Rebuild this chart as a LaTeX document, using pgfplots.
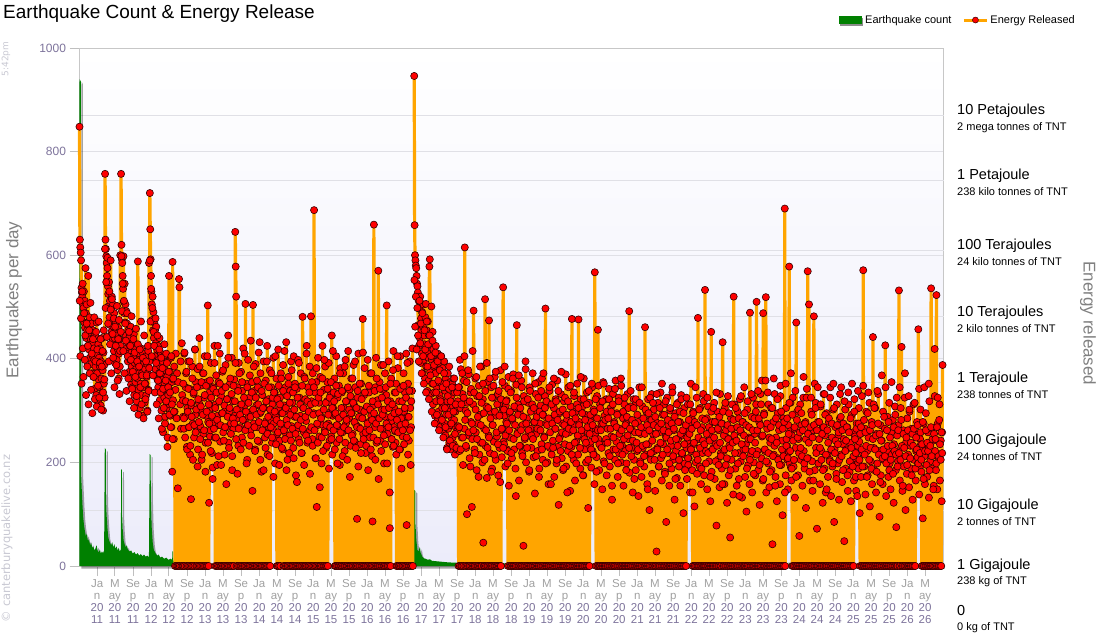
\documentclass[border=0pt]{standalone}
\usepackage{pgfplots}
\usepackage{pgfplotstable}
\pgfplotsset{compat=1.18}
\usepackage{fontspec}
\setmainfont{Liberation Sans}
\newfontfamily\wmfont{DejaVu Sans}
\definecolor{eqgreen}{RGB}{0,128,0}
\definecolor{enorange}{RGB}{255,165,0}
\definecolor{mkred}{RGB}{255,0,0}
\definecolor{mc}{RGB}{160,160,160}
\definecolor{yc}{RGB}{125,115,155}
\definecolor{gridc}{RGB}{224,224,230}
\definecolor{bgbot}{RGB}{236,236,250}
\definecolor{wm}{RGB}{200,200,210}
\newcommand{\mJ}[1]{\textcolor{mc}{Ja}\\\textcolor{mc}{n}\\20\\#1}
\newcommand{\mM}[1]{\textcolor{mc}{M}\\\textcolor{mc}{ay}\\20\\#1}
\newcommand{\mS}[1]{\textcolor{mc}{Se}\\\textcolor{mc}{p}\\20\\#1}
\pgfplotstableread{
x y
2010.672 0
2010.674 940
2010.700 935
2010.703 180
2010.715 150
2010.728 120
2010.742 95
2010.756 80
2010.770 70
2010.790 58
2010.810 62
2010.830 48
2010.850 52
2010.870 40
2010.890 45
2010.910 35
2010.930 38
2010.950 30
2010.970 34
2010.990 40
2011.010 30
2011.030 26
2011.050 32
2011.070 24
2011.090 28
2011.110 25
2011.130 30
2011.142 228
2011.160 225
2011.165 130
2011.175 100
2011.190 75
2011.205 57
2011.220 50
2011.240 45
2011.260 40
2011.280 46
2011.300 36
2011.320 42
2011.340 33
2011.360 38
2011.380 30
2011.400 35
2011.420 28
2011.440 32
2011.445 187
2011.460 185
2011.465 95
2011.475 70
2011.490 50
2011.510 42
2011.530 36
2011.550 40
2011.570 32
2011.600 28
2011.630 30
2011.660 24
2011.690 27
2011.720 22
2011.750 25
2011.780 20
2011.810 23
2011.840 19
2011.870 22
2011.900 18
2011.930 20
2011.960 17
2011.974 216
2011.990 214
2011.995 134
2012.010 76
2012.030 45
2012.050 31
2012.080 25
2012.110 20
2012.140 22
2012.170 16
2012.200 18
2012.240 14
2012.280 16
2012.320 12
2012.360 14
2012.390 12
2012.395 28
2012.405 28
2012.410 10
2012.450 8
2012.500 6
2012.600 5
2013.000 4
2013.540 5
2013.550 12
2013.570 4
2014.000 4
2015.000 3
2016.000 3
2016.118 3
2016.120 21
2016.135 20
2016.140 6
2016.500 3
2016.868 3
2016.870 147
2016.890 145
2016.893 83
2016.910 50
2016.930 31
2016.950 28
2016.975 37
2016.990 26
2017.020 18
2017.050 15
2017.080 14
2017.120 12
2017.160 13
2017.200 10
2017.300 9
2017.400 8
2017.500 7
2017.700 6
2018.500 5
2019.500 4
2021.000 4
2022.000 3
2023.800 3
2023.810 8
2023.820 3
2025.000 3
2026.655 3
2026.656 0
}\greendata

\begin{document}
\begin{tikzpicture}
\path[use as bounding box] (0,0) rectangle (1100pt,640pt);
\begin{axis}[
  at={(79.5pt,74pt)}, anchor=south west,
  scale only axis, width=864pt, height=518pt,
  xmin=2010.674, xmax=2026.67, ymin=0, ymax=1000,
  clip=false,
  axis line style={draw=black!22},
  axis background/.style={shade, top color=white, bottom color=bgbot},
  ytick={0,200,...,1000},
  ymajorgrids, grid style={draw=gridc, line width=0.8pt},
  extra y ticks={108.1,233.6,353.9,481.3,610,745.2,870.7},
  extra y tick labels={},
  extra y tick style={grid=major, major tick length=0pt},
  tick pos=left, tick align=outside, major tick length=10pt,
  tick style={draw=black!25, line width=0.8pt},
  /pgf/number format/1000 sep={}, /pgf/number format/assume math mode=true,
  yticklabel style={font=\fontsize{12}{14}\selectfont, text=yc},
  xtick={2011,2011.329,2011.666,2012,2012.329,2012.666,2013,2013.329,2013.666,2014,2014.329,2014.666,2015,2015.329,2015.666,2016,2016.329,2016.666,2017,2017.329,2017.666,2018,2018.329,2018.666,2019,2019.329,2019.666,2020,2020.329,2020.666,2021,2021.329,2021.666,2022,2022.329,2022.666,2023,2023.329,2023.666,2024,2024.329,2024.666,2025,2025.329,2025.666,2026,2026.329},
  xticklabels={\mJ{11},\mM{11},\mS{11},\mJ{12},\mM{12},\mS{12},\mJ{13},\mM{13},\mS{13},\mJ{14},\mM{14},\mS{14},\mJ{15},\mM{15},\mS{15},\mJ{16},\mM{16},\mS{16},\mJ{17},\mM{17},\mS{17},\mJ{18},\mM{18},\mS{18},\mJ{19},\mM{19},\mS{19},\mJ{20},\mM{20},\mS{20},\mJ{21},\mM{21},\mS{21},\mJ{22},\mM{22},\mS{22},\mJ{23},\mM{23},\mS{23},\mJ{24},\mM{24},\mS{24},\mJ{25},\mM{25},\mS{25},\mJ{26},\mM{26}},
  xticklabel style={align=center, font=\fontsize{11.5}{12}\selectfont, text=yc},
  legend style={at={(axis description cs:0.8785,1.054)}, anchor=west, draw=none, fill=none, inner sep=0pt,
    font=\fontsize{11}{13}\selectfont, legend columns=2, legend cell align=left,
    /tikz/every even column/.append style={column sep=9pt}},
  energy/.style={draw=enorange, line width=3.2pt, line join=round, mark=*, mark size=3.6pt,
    mark options={fill=mkred, draw=black!80!red, line width=0.6pt, solid}},
  extra/.style={only marks, mark=*, mark size=3.6pt,
    mark options={fill=mkred, draw=black!80!red, line width=0.6pt, solid}},
]
\addplot[fill=black, fill opacity=0.35, draw=none, xshift=2pt, yshift=-2.5pt, forget plot] table[x=x,y=y] {\greendata} \closedcycle;
\addplot[fill=eqgreen, draw=none, legend image code/.code={\fill[black!45] (1.5pt,-5.5pt) rectangle (24.5pt,2.5pt); \fill[eqgreen] (0pt,-4pt) rectangle (23pt,4pt);}] table[x=x,y=y] {\greendata} \closedcycle;
\addlegendentry{Earthquake count}
\addplot[energy, legend image code/.code={\draw[draw=enorange, line width=3pt] (0pt,0pt) -- (23pt,0pt); \draw[draw=none, mark=*, mark size=3pt, mark options={fill=mkred, draw=black!80!red, line width=0.5pt}] plot coordinates {(11.5pt,0pt)};}] table[header=false, x expr=2010.674+\coordindex*0.0074, y index=0] {
848
630
615
605
590
537
528
520
545
505
498
530
470
512
460
575
488
440
505
455
470
425
560
445
418
480
402
455
438
390
468
372
430
405
455
365
420
398
342
445
385
410
330
470
372
395
318
428
360
402
345
385
420
310
395
362
440
335
378
300
412
352
388
325
757
630
612
598
585
560
595
540
525
502
548
480
512
465
590
498
452
520
470
438
505
462
415
488
440
392
472
425
455
398
445
378
418
460
362
410
438
385
600
425
757
620
592
585
560
535
598
510
488
545
470
505
445
492
420
468
432
395
455
410
440
375
425
398
462
350
412
385
430
345
405
372
448
330
392
418
355
380
405
318
395
362
588
340
410
372
398
305
385
352
420
330
372
395
290
410
345
368
392
315
380
352
405
330
365
390
300
372
415
340
585
395
720
650
592
560
530
505
475
520
455
490
440
470
405
455
380
430
462
395
418
360
425
345
398
372
440
320
385
355
410
300
372
338
395
258
360
405
325
352
288
378
342
410
305
365
230
395
330
352
560
312
375
290
338
402
268
355
182
587
320
360
245
385
298
0
340
410
0
285
372
0
150
355
0
554
538
0
312
395
265
0
430
330
0
288
};
\addlegendentry{Energy Released}
\addplot[energy, forget plot] table[header=false, x expr=2012.59+\coordindex*0.0082, y index=0] {
320
0
265
410
0
288
345
372
0
230
305
0
395
268
0
342
215
0
129
310
0
385
275
0
332
248
0
418
292
355
0
262
0
380
225
0
315
440
0
270
348
0
205
298
0
372
255
0
325
405
0
238
290
0
355
0
503
278
0
122
335
250
262
392
310
218
305
190
345
282
275
425
248
0
312
368
0
195
290
0
355
272
0
410
240
0
328
0
295
375
0
258
345
0
215
0
388
302
0
268
322
0
445
238
0
298
352
0
275
0
402
185
0
318
265
0
360
290
645
578
520
0
285
345
0
232
392
0
305
268
0
375
0
248
338
0
420
282
0
310
0
506
265
0
352
205
0
398
288
0
325
0
262
435
0
298
355
0
504
0
275
338
0
225
390
0
310
0
268
345
0
412
240
0
295
372
0
182
0
330
262
0
395
305
0
248
0
358
280
0
425
215
0
322
268
0
378
0
292
345
280
238
312
265
402
275
330
335
198
245
288
362
0
255
0
418
302
0
242
325
0
372
268
295
342
225
388
0
310
0
258
345
0
432
282
0
205
0
365
298
0
252
338
0
395
270
0
315
0
228
405
0
288
352
0
175
0
342
265
0
398
245
0
325
0
290
372
0
218
0
481
305
0
258
365
0
322
0
280
410
0
238
345
0
298
0
385
262
0
482
318
0
245
372
0
295
687
0
335
208
0
355
114
0
272
402
0
315
250
0
365
0
288
198
0
425
272
0
340
0
262
385
0
228
0
318
355
0
275
392
270
242
315
330
298
250
445
215
290
305
335
268
362
0
292
0
405
238
0
325
270
0
348
0
195
382
0
288
0
335
258
0
372
305
0
222
0
398
275
0
318
0
262
415
0
285
340
0
232
0
362
295
0
255
0
388
312
0
240
345
0
272
0
91
325
0
410
268
0
302
0
235
352
0
288
0
477
255
0
330
382
0
218
0
305
265
0
398
0
278
335
0
248
372
0
290
0
212
86
0
310
659
0
268
345
0
402
238
0
320
0
570
285
0
355
0
242
388
0
302
0
265
340
0
198
0
372
288
0
330
503
0
255
0
395
278
0
73
318
0
362
245
280
290
230
415
268
305
335
260
238
352
0
295
0
382
262
0
318
0
225
405
0
285
345
0
250
0
372
298
0
335
265
0
410
79
0
288
352
0
242
0
395
305
0
268
0
338
420
0
};
\addplot[energy, forget plot] table[header=false, x expr=2016.871+\coordindex*0.0074, y index=0] {
946
658
600
590
580
575
560
545
540
528
465
512
425
498
440
520
392
478
455
410
490
372
462
505
398
445
428
362
480
506
385
455
412
338
472
402
358
445
578
592
375
425
332
501
398
352
452
312
418
385
335
408
290
372
425
318
395
345
280
410
355
298
392
330
268
378
322
405
285
352
305
382
262
345
312
395
275
338
252
362
292
345
228
318
372
265
305
342
238
298
355
272
225
328
285
352
248
308
362
235
282
335
215
298
268
342
225
305
262
318
};
\addplot[energy, forget plot] table[header=false, x expr=2017.685+\coordindex*0.00816, y index=0] {
270
0
345
222
0
305
380
0
248
0
332
195
0
358
265
615
0
300
228
0
100
315
0
252
370
0
208
0
335
278
0
114
245
0
312
493
0
225
0
362
258
0
185
328
0
275
0
348
215
0
292
238
0
385
0
200
322
45
0
265
0
515
232
0
308
170
0
355
0
252
474
0
218
298
0
345
0
188
272
0
325
240
0
365
0
205
290
0
250
0
332
175
0
312
228
0
378
0
262
210
265
302
538
240
235
290
348
192
310
278
320
225
222
0
365
155
0
295
248
0
338
0
208
282
0
370
0
225
305
0
188
0
350
465
0
258
312
0
165
0
295
232
0
358
0
218
272
0
39
328
0
245
0
380
200
0
285
0
252
315
0
182
345
0
265
0
228
302
0
372
0
210
278
0
140
0
332
255
0
298
222
0
355
0
188
275
0
310
0
235
362
0
205
0
290
250
0
328
497
0
275
0
200
315
0
158
0
338
228
0
282
0
215
350
0
242
0
305
172
0
265
322
0
198
0
358
230
0
118
0
295
250
0
332
0
208
275
0
185
0
318
0
235
0
370
192
0
282
0
222
345
0
258
0
145
308
0
230
477
0
272
0
205
328
0
165
0
298
240
0
352
0
215
476
0
278
0
188
322
0
250
0
308
0
175
362
0
225
0
292
200
0
335
0
258
112
0
315
0
232
278
240
190
265
345
222
290
302
215
158
567
255
265
0
210
328
0
456
245
0
185
0
312
0
230
275
0
148
0
355
202
0
290
0
238
0
322
175
0
265
0
218
342
0
192
0
305
250
0
128
0
332
225
0
278
0
205
358
0
240
295
0
172
0
325
218
0
265
0
200
348
0
232
0
285
155
0
312
0
222
0
275
198
0
332
0
245
0
492
180
0
308
0
228
262
0
142
0
322
205
0
258
0
185
315
0
222
0
278
135
0
345
0
202
255
0
172
0
308
228
0
265
192
0
461
0
215
298
0
158
0
322
235
0
108
0
282
205
0
332
178
0
255
0
302
222
0
145
0
278
28
0
228
315
0
192
0
258
0
335
208
0
165
0
292
235
0
312
0
182
0
250
85
0
325
0
218
272
0
155
0
300
0
232
188
0
345
0
205
262
0
128
0
295
222
0
170
0
315
245
0
192
0
278
155
0
330
0
215
252
0
102
0
305
198
0
262
0
228
168
240
312
195
208
275
260
142
230
352
222
285
185
0
298
235
0
115
0
272
200
0
325
178
0
479
0
245
0
192
305
0
158
0
268
218
0
332
0
175
0
533
0
222
0
285
148
0
308
0
202
250
0
125
0
452
182
0
278
0
228
0
315
168
0
235
0
78
0
298
205
0
262
0
152
332
0
218
0
188
275
432
0
222
0
158
305
0
195
0
248
122
0
328
0
175
232
0
55
0
285
205
0
265
0
138
520
0
312
0
188
242
0
155
0
298
0
218
168
0
322
0
202
258
0
132
0
278
225
0
345
0
172
0
235
105
0
302
0
195
248
0
158
489
0
215
0
288
142
0
325
0
200
0
255
175
0
312
510
0
222
0
185
0
278
118
0
332
0
208
250
0
165
488
0
295
0
222
0
519
142
0
265
0
198
312
0
152
0
238
0
305
185
0
42
0
278
215
0
332
0
172
248
0
125
0
295
208
0
262
0
158
328
0
195
0
242
98
0
285
0
218
690
0
175
305
245
232
205
148
272
220
578
198
260
315
190
165
252
0
325
0
192
0
265
132
0
228
470
0
298
0
175
245
0
58
0
312
205
0
272
0
155
0
325
222
0
188
0
278
112
0
342
0
569
208
0
505
0
165
252
0
298
0
202
145
0
262
482
0
185
0
315
228
0
72
0
278
0
198
245
0
158
308
0
222
0
265
122
0
332
0
188
252
0
142
0
295
0
215
172
0
278
0
205
325
0
135
0
248
192
0
302
0
85
225
0
268
0
178
312
0
198
0
252
128
0
285
0
215
345
0
162
0
235
275
0
48
0
302
188
0
225
0
268
145
0
312
0
182
238
0
125
0
292
205
0
258
0
165
322
250
208
172
145
275
225
232
198
188
305
240
102
0
255
172
0
328
0
218
571
0
192
0
265
138
0
298
0
222
175
0
248
0
315
115
0
202
0
278
158
0
442
0
228
185
0
305
0
142
255
0
198
0
332
222
0
95
0
272
175
0
242
0
158
298
0
205
0
265
426
0
135
0
222
288
0
172
0
315
198
0
148
0
258
215
0
282
0
122
235
0
308
0
185
75
0
252
0
202
272
532
0
165
0
305
228
423
0
145
0
262
192
0
325
0
108
238
0
178
285
0
215
0
152
298
0
232
0
188
265
0
128
0
312
205
0
255
0
165
222
225
278
210
198
457
250
138
190
245
302
235
182
0
228
92
0
275
0
212
158
0
295
0
225
172
0
258
0
132
318
0
202
0
536
265
0
188
0
242
155
0
419
222
0
185
523
0
148
275
0
205
0
312
165
0
242
0
125
258
388
};
\addplot[extra, forget plot] table[header=false, x expr=2010.678+\coordindex*0.0117, y index=0] {
512
405
478
352
530
420
365
488
398
445
330
468
385
425
312
455
372
508
340
410
295
438
365
480
322
395
452
308
418
348
472
325
392
438
302
385
415
335
455
360
612
498
548
442
575
468
395
530
428
495
372
515
448
402
478
345
462
425
388
502
358
438
475
332
415
452
598
492
545
415
512
372
468
435
338
488
405
362
452
318
425
398
482
342
375
438
305
412
365
458
328
395
428
292
385
418
345
472
312
368
402
285
445
352
322
395
368
298
425
338
382
590
472
535
405
498
368
452
425
335
478
392
312
445
358
285
418
372
335
402
265
382
342
305
428
275
358
318
392
248
345
375
292
335
268
405
312
245
362
298
};
\addplot[extra, forget plot] table[header=false, x expr=2012.594+\coordindex*0.0121, y index=0] {
352
285
412
248
318
375
225
298
342
268
395
232
315
288
362
205
335
272
418
258
302
345
192
322
278
385
245
308
355
215
292
372
262
330
182
348
298
405
238
312
275
358
222
325
290
168
342
265
392
305
248
335
282
425
212
318
352
272
195
338
295
378
242
310
268
345
158
322
288
402
228
305
362
255
332
212
285
348
275
318
392
245
302
178
338
265
372
292
225
312
355
282
238
325
410
262
298
198
345
272
315
232
368
288
252
335
145
302
385
268
222
325
292
358
242
312
278
432
205
298
338
262
305
185
352
275
228
318
395
255
288
345
212
302
268
372
248
325
172
335
298
405
235
282
322
258
348
195
312
275
362
228
295
338
262
415
245
305
185
328
272
352
218
315
292
242
378
265
335
208
302
345
255
288
162
325
272
392
238
312
282
218
348
265
305
195
362
288
252
425
318
242
298
335
178
312
268
355
232
292
345
262
315
208
382
275
238
325
295
152
335
285
248
362
222
302
398
258
315
272
232
342
292
188
325
268
355
245
305
415
262
318
225
295
348
272
198
332
285
245
372
258
305
338
212
292
268
385
238
318
282
205
345
262
302
172
328
295
252
362
315
242
278
395
228
305
268
338
192
288
352
265
218
322
285
412
245
298
335
258
232
308
275
185
348
262
302
225
372
282
318
248
295
338
205
275
362
242
312
168
285
342
265
222
325
292
388
252
302
235
345
275
198
318
268
305
142
352
288
245
312
378
232
295
262
335
215
282
405
258
298
225
342
272
188
318
262
348
235
305
275
325
248
392
215
288
338
262
195
318
};
\addplot[extra, forget plot] table[header=false, x expr=2016.875+\coordindex*0.0134, y index=0] {
552
462
520
418
498
445
395
512
430
468
372
488
405
352
455
418
335
472
385
428
322
445
368
405
298
435
352
388
275
412
335
292
395
358
262
378
318
405
282
345
248
372
305
268
352
225
328
292
385
242
318
275
345
232
298
362
255
312
228
335
};
\addplot[extra, forget plot] table[header=false, x expr=2017.69+\coordindex*0.0138, y index=0] {
345
268
398
225
312
372
248
325
405
282
232
355
295
378
258
318
192
342
275
415
262
335
218
302
365
245
288
172
328
385
272
315
238
352
295
205
338
262
392
228
305
248
362
285
182
325
272
348
215
298
375
258
312
235
338
290
162
322
265
355
228
302
385
252
318
275
198
342
262
298
335
218
285
362
245
308
272
135
325
255
292
368
232
305
262
345
212
288
318
248
395
275
228
322
262
185
338
298
252
312
245
305
278
352
212
288
265
325
172
298
262
338
225
292
372
248
305
198
318
272
232
285
345
258
158
312
275
228
362
292
265
318
205
282
338
245
298
222
375
258
302
188
272
325
255
292
142
318
265
232
348
278
215
295
262
335
238
285
198
312
252
305
272
228
365
262
295
175
322
245
282
238
312
268
205
338
255
292
225
352
272
215
298
245
322
182
285
262
348
235
305
262
228
318
275
352
198
282
245
298
238
285
322
212
265
298
155
312
248
275
342
225
268
292
198
318
255
232
362
262
215
298
245
325
272
185
288
252
305
228
265
338
212
282
242
305
168
275
322
238
292
225
258
315
198
268
345
232
285
212
255
302
235
272
148
295
262
325
218
282
242
315
272
205
288
255
332
225
268
192
305
238
275
352
215
262
292
178
318
248
225
282
258
198
305
242
275
335
212
265
288
168
245
312
232
278
205
298
255
322
218
262
295
235
185
272
325
248
208
282
255
312
225
265
142
295
238
278
345
215
272
205
248
302
228
262
188
285
242
318
235
282
198
255
325
218
268
242
172
298
262
225
305
248
278
202
335
232
265
195
288
238
212
275
158
298
252
225
315
262
208
272
245
295
228
185
265
312
238
282
252
218
305
242
268
198
285
135
262
328
235
278
212
252
295
225
272
188
318
245
268
205
245
332
222
262
178
285
238
298
215
262
338
285
195
272
312
358
252
168
292
225
358
202
275
335
218
248
182
268
245
305
212
362
232
155
285
238
322
205
272
195
348
298
225
265
212
278
142
352
232
285
208
255
315
222
372
188
292
242
205
268
338
172
282
248
302
218
258
228
295
212
262
365
198
275
245
325
208
255
238
182
268
325
292
248
165
272
352
305
218
262
345
198
278
228
312
205
255
185
268
332
292
215
148
262
238
285
202
345
225
275
198
352
305
218
242
168
272
235
258
205
332
288
212
262
185
245
318
222
242
268
175
335
258
202
285
228
352
192
212
298
245
218
265
135
338
275
205
255
268
225
192
348
282
215
258
232
172
295
335
205
262
228
188
272
245
312
305
225
252
182
338
275
215
255
162
242
368
208
225
288
212
345
198
262
232
278
185
248
205
355
232
178
268
222
292
215
325
192
262
218
345
205
282
232
155
255
228
372
212
248
195
262
328
302
208
238
175
255
232
265
315
188
248
225
272
198
342
218
258
205
235
278
168
345
222
262
195
238
222
352
185
232
268
212
245
148
255
328
245
198
268
325
212
282
235
205
258
218
};
\end{axis}
\node[anchor=base west, inner sep=0pt, font=\fontsize{19}{22}\selectfont] at (3pt,621pt) {Earthquake Count \& Energy Release};
\node[rotate=90, inner sep=0pt, font=\fontsize{17}{20}\selectfont, text=black!50] at (14pt,340pt) {Earthquakes per day};
\node[rotate=-90, inner sep=0pt, font=\fontsize{17}{20}\selectfont, text=black!50] at (1088pt,316.5pt) {Energy released};
\node[rotate=90, inner sep=0pt, font=\wmfont\fontsize{9}{10}\selectfont, text=wm] at (6pt,581pt) {5:42pm};
\node[rotate=90, inner sep=0pt, font=\wmfont\fontsize{11.5}{12}\selectfont, text=wm] at (7pt,101.5pt) {© canterburyquakelive.co.nz};
\foreach \yb/\ma/\sb in {525/10 Petajoules/2 mega tonnes of TNT, 460/1 Petajoule/238 kilo tonnes of TNT, 390/100 Terajoules/24 kilo tonnes of TNT, 323.3/10 Terajoules/2 kilo tonnes of TNT, 257.3/1 Terajoule/238 tonnes of TNT, 195/100 Gigajoule/24 tonnes of TNT, 130/10 Gigajoule/2 tonnes of TNT, 70.7/1 Gigajoule/238 kg of TNT, 25/0/0 kg of TNT}{
  \node[anchor=base west, inner sep=0pt, font=\fontsize{14.5}{16}\selectfont] at (957pt,\yb pt) {\ma};
  \node[anchor=base west, inner sep=0pt, font=\fontsize{11}{13}\selectfont] at (957pt,\yb pt-15.5pt) {\sb};
}
\end{tikzpicture}
\end{document}
